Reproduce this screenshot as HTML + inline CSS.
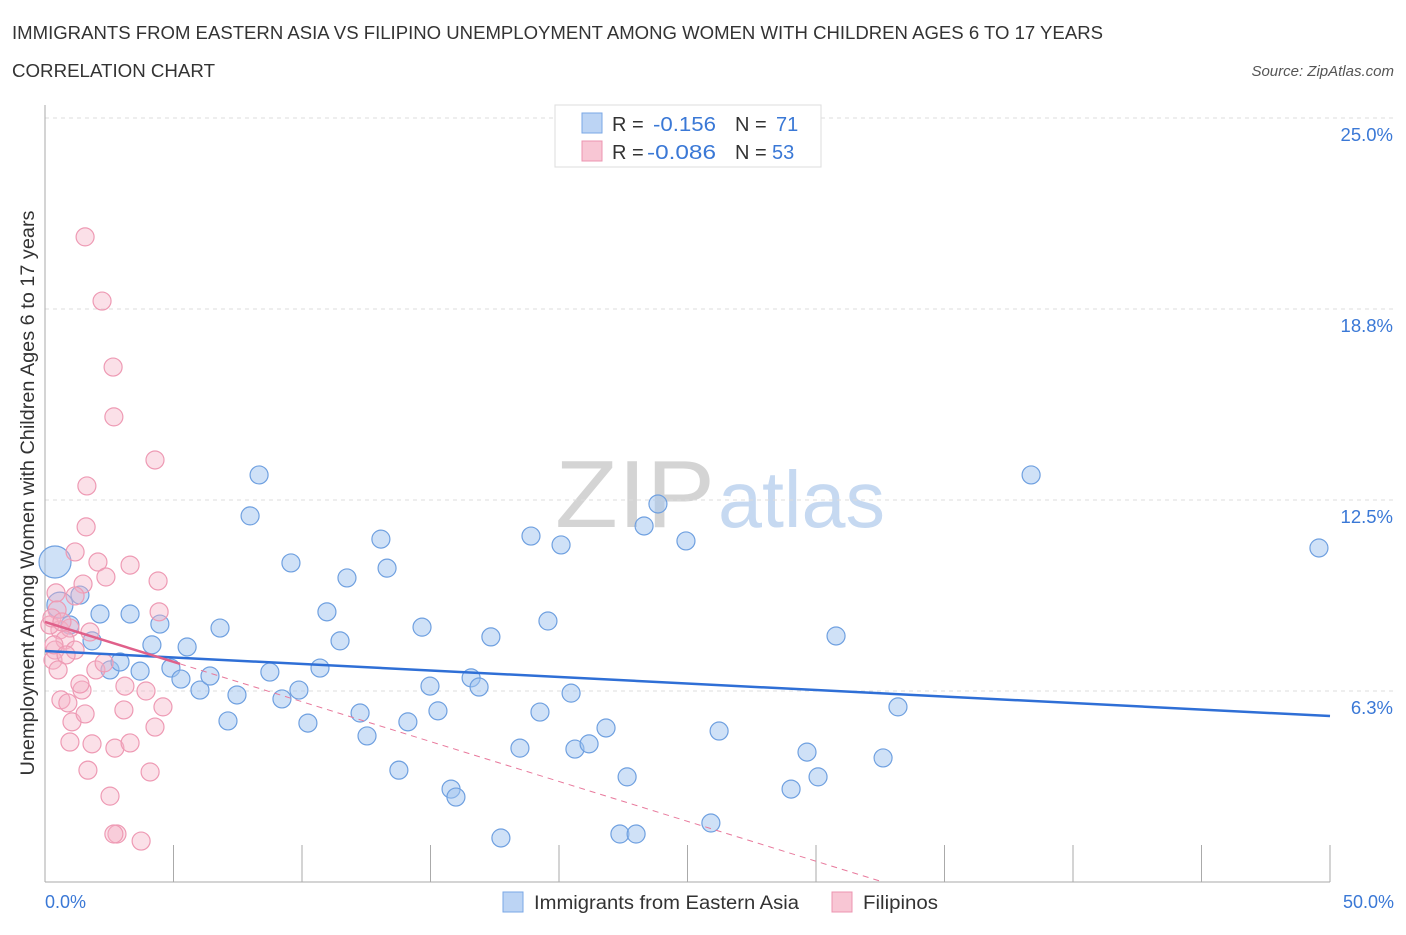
<!DOCTYPE html>
<html><head><meta charset="utf-8"><style>
body{margin:0;background:#fff;font-family:"Liberation Sans",sans-serif}
svg text{font-family:"Liberation Sans",sans-serif}
</style></head><body>
<svg id="c" width="1406" height="930">
<text x="12" y="39" font-size="18" fill="#333" textLength="1091" lengthAdjust="spacingAndGlyphs">IMMIGRANTS FROM EASTERN ASIA VS FILIPINO UNEMPLOYMENT AMONG WOMEN WITH CHILDREN AGES 6 TO 17 YEARS</text>
<text x="12" y="77" font-size="18" fill="#333" textLength="203" lengthAdjust="spacingAndGlyphs">CORRELATION CHART</text>
<text x="1394" y="76" font-size="15" fill="#555" font-style="italic" text-anchor="end">Source: ZipAtlas.com</text>
<text transform="translate(34,493) rotate(-90)" font-size="19" fill="#333" text-anchor="middle" textLength="565" lengthAdjust="spacingAndGlyphs">Unemployment Among Women with Children Ages 6 to 17 years</text>
<g><text x="555" y="527" font-size="96" font-family="Liberation Serif" fill="#d4d4d4" textLength="160" lengthAdjust="spacingAndGlyphs">ZIP</text><text x="718" y="527" font-size="80" fill="#c6d9f1" textLength="167" lengthAdjust="spacingAndGlyphs">atlas</text></g>
<g id="grid"></g><g id="axes"></g><g id="pts"></g><g id="trend"></g>
<g>
<rect x="555" y="105" width="266" height="62" fill="#fff" stroke="#ddd"/>
<rect x="582" y="113" width="20" height="20" fill="#bcd4f4" stroke="#7aa7e6"/>
<rect x="582" y="141" width="20" height="20" fill="#f8c6d4" stroke="#ec94b0"/>
<text x="612" y="131" font-size="20" fill="#333">R = </text><text x="653" y="131" font-size="20" fill="#3a78d6" textLength="63" lengthAdjust="spacingAndGlyphs">-0.156</text>
<text x="735" y="131" font-size="20" fill="#333">N = </text><text x="776" y="131" font-size="20" fill="#3a78d6">71</text>
<text x="612" y="159" font-size="20" fill="#333">R = </text><text x="647" y="159" font-size="20" fill="#3a78d6" textLength="69" lengthAdjust="spacingAndGlyphs">-0.086</text>
<text x="735" y="159" font-size="20" fill="#333">N = </text><text x="772" y="159" font-size="20" fill="#3a78d6">53</text>
</g>
<g>
<rect x="503" y="892" width="20" height="20" fill="#bcd4f4" stroke="#7aa7e6"/>
<text x="534" y="909" font-size="19" fill="#333" textLength="265" lengthAdjust="spacingAndGlyphs">Immigrants from Eastern Asia</text>
<rect x="832" y="892" width="20" height="20" fill="#f8c6d4" stroke="#ec94b0"/>
<text x="863" y="909" font-size="19" fill="#333" textLength="75" lengthAdjust="spacingAndGlyphs">Filipinos</text>
</g>
<text x="45" y="908" font-size="18" fill="#3a78d6">0.0%</text>
<text x="1394" y="908" font-size="18" fill="#3a78d6" text-anchor="end">50.0%</text>
</svg>
<script>
const yTicks=[6.25,12.5,18.75,25];
const yTickLabels=["6.3%","12.5%","18.8%","25.0%"];
const blueX=[0.39,0.58,0.97,1.36,1.83,2.14,2.53,2.92,3.31,3.70,4.16,4.47,4.90,5.29,5.53,6.03,6.42,6.81,7.12,7.47,7.98,8.33,8.75,9.22,9.57,9.88,10.23,10.70,10.97,11.48,11.75,12.26,12.53,13.07,13.31,13.77,14.12,14.67,14.98,15.29,15.80,15.99,16.58,16.89,17.35,17.74,18.48,18.91,19.26,19.57,20.08,20.47,20.62,21.17,21.83,22.37,22.65,23.00,23.31,23.85,24.94,25.91,26.23,29.03,29.65,30.08,30.78,32.61,33.19,38.37,49.57];
const blueY=[10.47,9.06,8.41,9.39,7.89,8.77,6.94,7.20,8.77,6.90,7.76,8.44,7.00,6.64,7.69,6.28,6.74,8.31,5.27,6.12,11.98,13.32,6.87,5.99,10.44,6.28,5.20,7.00,8.84,7.89,9.95,5.53,4.78,11.22,10.27,3.66,5.24,8.34,6.41,5.60,3.04,2.78,6.68,6.38,8.02,1.44,4.38,11.32,5.56,8.54,11.03,6.18,4.35,4.52,5.04,1.57,3.44,1.57,11.65,12.37,11.16,1.93,4.94,3.04,4.25,3.44,8.05,4.06,5.73,13.32,10.93];
const pinkX=[1.56,2.22,2.65,2.68,4.28,1.63,1.60,1.17,2.06,3.31,2.37,1.48,4.40,0.43,0.47,4.44,1.17,0.58,0.97,0.78,1.17,0.39,0.31,0.35,0.19,1.98,2.30,1.44,1.36,3.11,3.93,0.62,0.89,4.59,3.07,1.05,1.56,4.28,0.97,1.83,2.72,3.31,1.67,4.09,2.53,2.80,2.68,3.74,0.27,0.66,0.82,0.51,1.75];
const pinkY=[21.11,19.01,16.85,15.22,13.81,12.96,11.62,10.80,10.47,10.37,9.98,9.75,9.85,9.46,8.90,8.84,9.36,8.25,8.31,7.92,7.59,7.59,7.26,7.76,8.41,6.94,7.17,6.28,6.48,6.41,6.25,5.96,5.86,5.73,5.63,5.24,5.50,5.07,4.58,4.52,4.38,4.55,3.66,3.60,2.81,1.57,1.57,1.34,8.64,8.51,7.43,6.94,8.18];
const blueTrend=[7.56,5.43];
const pinkTrend=[8.51,-0.261];
const NS="http://www.w3.org/2000/svg";
const xs=v=>45+v*25.7, ys=v=>882-v*30.56;
function mk(p,t,a){const e=document.createElementNS(NS,t);for(const k in a)e.setAttribute(k,a[k]);p.appendChild(e);return e;}
const grid=document.getElementById('grid'),axes=document.getElementById('axes'),pts=document.getElementById('pts'),tr=document.getElementById('trend');
yTicks.forEach((t,i)=>{
 const l=mk(grid,'line',{x1:45,x2:1395,y1:ys(t),y2:ys(t),stroke:'#ddd','stroke-dasharray':'4,4'});
 
 
 const tx=mk(grid,'text',{x:1393,y:ys(t)+23,'font-size':18.5,fill:'#3a78d6','text-anchor':'end'});
 tx.textContent=yTickLabels[i];
 
 
});
const ya=mk(axes,'line',{x1:45,x2:45,y1:105,y2:882,stroke:'#aaa'});


const xa=mk(axes,'line',{x1:45,x2:1330,y1:882,y2:882,stroke:'#aaa'});


for(let i=0;i<=10;i++){const tk=mk(axes,'line',{x1:xs(i*5),x2:xs(i*5),y1:845,y2:882,stroke:'#aaa'});
 
 }
blueX.forEach((x,i)=>{const r=i==0?16:(i==1?13:9);
 const c=mk(pts,'circle',{cx:xs(x),cy:ys(blueY[i]),r:r,fill:'rgba(160,196,240,0.5)',stroke:'#6fa0e0','stroke-width':1.2});
 
 });
pinkX.forEach((x,i)=>{
 const c=mk(pts,'circle',{cx:xs(x),cy:ys(pinkY[i]),r:9,fill:'rgba(246,178,198,0.4)',stroke:'#ee9ab4','stroke-width':1.2});
 
 });
const bl=mk(tr,'line',{x1:xs(0),y1:ys(blueTrend[0]),x2:xs(50),y2:ys(blueTrend[1]),stroke:'#2f6fd6','stroke-width':2.5});


const x0=-pinkTrend[0]/pinkTrend[1];
const pd=mk(tr,'line',{x1:xs(5.25),y1:ys(pinkTrend[0]+pinkTrend[1]*5.25),x2:xs(x0),y2:ys(0),stroke:'#e8799c','stroke-width':1,'stroke-dasharray':'6,5'});


const ps=mk(tr,'line',{x1:xs(0),y1:ys(pinkTrend[0]),x2:xs(5.25),y2:ys(pinkTrend[0]+pinkTrend[1]*5.25),stroke:'#e0608a','stroke-width':2.5});


</script>
</body></html>
